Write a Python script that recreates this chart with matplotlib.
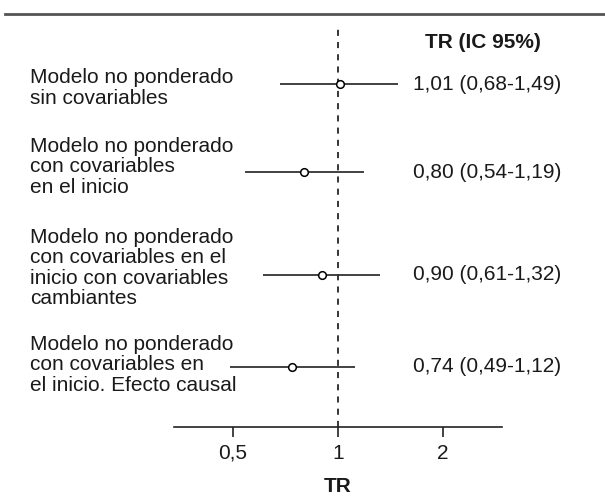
import matplotlib
matplotlib.use("Agg")
import matplotlib.pyplot as plt
from matplotlib.lines import Line2D

plt.rcParams['font.family'] = ['Liberation Sans', 'DejaVu Sans']

labels = [
    "Modelo no ponderado\nsin covariables",
    "Modelo no ponderado\ncon covariables\nen el inicio",
    "Modelo no ponderado\ncon covariables en el\ninicio con covariables\ncambiantes",
    "Modelo no ponderado\ncon covariables en\nel inicio. Efecto causal",
]
tr = [1.01, 0.80, 0.90, 0.74]
lo = [0.68, 0.54, 0.61, 0.49]
hi = [1.49, 1.19, 1.32, 1.12]
ci_text = ["1,01 (0,68-1,49)", "0,80 (0,54-1,19)", "0,90 (0,61-1,32)", "0,74 (0,49-1,12)"]
ticks = [0.5, 1, 2]
tick_labels = ["0,5", "1", "2"]

W, H = 605, 497
fig = plt.figure(figsize=(W / 100, H / 100), dpi=100)

def fx(px):
    return px / W

def fy(py):
    return 1 - py / H

# layout (pixel rows)
row_y = [84, 172, 275, 367]
label_y = [88, 167, 268, 365]
ax_left, ax_right, ax_top, ax_bottom = 174, 502, 29, 427

ax = fig.add_axes([fx(ax_left), fy(ax_bottom), fx(ax_right - ax_left), (ax_bottom - ax_top) / H])
ax.set_xscale('log', base=2)
span = (ax_right - ax_left) / 2 / 105.0
ax.set_xlim(2 ** -span, 2 ** span)
ax.set_ylim(ax_bottom, ax_top)

ax.axvline(1, color='black', lw=1.1, ls=(0, (4, 4)), zorder=1)
for y, t, l, h in zip(row_y, tr, lo, hi):
    ax.plot([l, h], [y, y], color='#333333', lw=1.3, zorder=2, solid_capstyle='butt')
    ax.plot([t], [y], marker='o', ms=5.5, mfc='white', mec='black', mew=1.1, zorder=3)

for s in ['left', 'top', 'right']:
    ax.spines[s].set_visible(False)
ax.spines['bottom'].set_color('#222222')
ax.spines['bottom'].set_linewidth(1.2)
ax.set_yticks([])
ax.set_xticks(ticks)
ax.set_xticklabels(tick_labels)
ax.xaxis.set_minor_locator(matplotlib.ticker.NullLocator())
ax.tick_params(axis='x', length=7, width=1.2, color='#222222', labelsize=15, pad=5, labelcolor='#1a1a1a')
ax.set_xlabel("TR", fontsize=15, fontweight='bold', labelpad=10, color='#1a1a1a')
ax.patch.set_alpha(0)

for y, lab in zip(label_y, labels):
    fig.text(fx(30), fy(y), lab, ha='left', va='center', fontsize=15, linespacing=1.1, color='#1a1a1a')
for y, s in zip(row_y, ci_text):
    fig.text(fx(413), fy(y), s, ha='left', va='center', fontsize=15, color='#1a1a1a')
fig.text(fx(483), fy(42), "TR (IC 95%)", ha='center', va='center', fontsize=15, fontweight='bold', color='#1a1a1a')

fig.add_artist(Line2D([fx(5), 1], [fy(14), fy(14)], transform=fig.transFigure, color='#555555', lw=2))

fig.savefig("out.png", dpi=100)
